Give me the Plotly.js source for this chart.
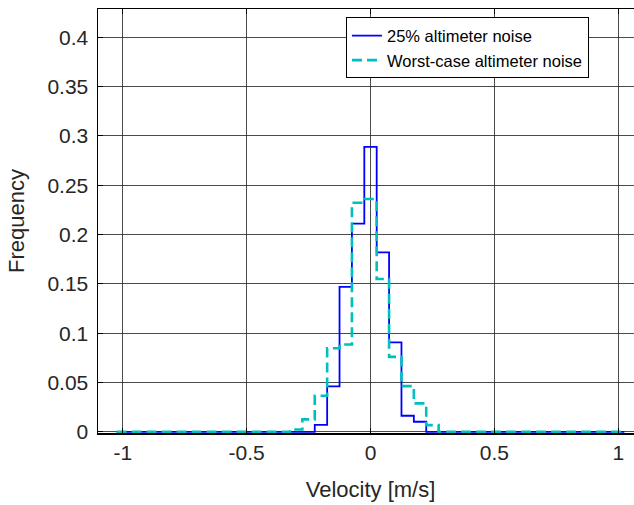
<!DOCTYPE html>
<html>
<head>
<meta charset="utf-8">
<script src="https://cdn.plot.ly/plotly-3.0.1.min.js"></script>
<style>
html,body{margin:0;padding:0;overflow:hidden;background:#fff;}
#chart{width:643px;height:505px;}
</style>
</head>
<body>
<div id="chart"></div>
<script>
// Bin edges (left edges of each step, last value = final right edge)
const blueEdges = [-1.025, -0.225, -0.175, -0.125, -0.075, -0.025, 0.025, 0.075, 0.125, 0.175, 0.225, 1.025];
const blueFreq  = [0, 0.007, 0.046, 0.147, 0.211, 0.289, 0.182, 0.0906, 0.0163, 0.0102, 0, 0];

const cyanEdges = [-1.025, -0.325, -0.275, -0.225, -0.175, -0.125, -0.075, -0.025, 0.025, 0.075, 0.125, 0.175, 0.225, 0.275, 1.025];
const cyanFreq  = [0, 0.0024, 0.0126, 0.0365, 0.0848, 0.0886, 0.2323, 0.236, 0.1549, 0.076, 0.0463, 0.0288, 0.0068, 0, 0];

const seriesNames = ['25% altimeter noise', 'Worst-case altimeter noise'];
const xTicks = [-1, -0.5, 0, 0.5, 1];
const xTickLabels = ['-1', '-0.5', '0', '0.5', '1'];
const yTicks = [0, 0.05, 0.1, 0.15, 0.2, 0.25, 0.3, 0.35, 0.4];
const yTickLabels = ['0', '0.05', '0.1', '0.15', '0.2', '0.25', '0.3', '0.35', '0.4'];

const FONT = 'Liberation Sans, Arial, Helvetica, sans-serif';
const TXT = '#262626';

const traces = [
  {
    x: blueEdges, y: blueFreq, type: 'scatter', mode: 'lines',
    line: {shape: 'hv', color: '#0000FF', width: 1.8},
    name: seriesNames[0]
  },
  {
    x: cyanEdges, y: cyanFreq, type: 'scatter', mode: 'lines',
    line: {shape: 'hv', color: '#00BFBF', width: 2.6, dash: '10px,5px'},
    name: seriesNames[1]
  }
];

const gridColor = 'rgba(30,30,30,0.8)';
const layout = {
  width: 643, height: 505,
  margin: {l: 98, r: 0, t: 9, b: 72},
  paper_bgcolor: '#fff', plot_bgcolor: '#fff',
  font: {family: FONT, size: 21, color: TXT},
  showlegend: true,
  legend: {
    x: 0.455, xanchor: 'left', y: 0.98, yanchor: 'top',
    bgcolor: '#fff', bordercolor: '#000', borderwidth: 1,
    font: {family: FONT, size: 16.5, color: '#000'},
    tracegroupgap: 0, itemwidth: 30
  },
  xaxis: {
    range: [-1.1, 1.1],
    tickvals: xTicks, ticktext: xTickLabels,
    showgrid: true, gridcolor: gridColor, gridwidth: 1,
    zeroline: false,
    showline: true, linecolor: '#000', linewidth: 1.5, mirror: 'ticks',
    ticks: 'inside', ticklen: 5, tickcolor: '#000',
    title: {text: 'Velocity [m/s]', font: {family: FONT, size: 22, color: TXT}, standoff: 19},
    tickfont: {family: FONT, size: 21, color: TXT}
  },
  yaxis: {
    range: [-0.0012, 0.4287],
    tickvals: yTicks, ticktext: yTickLabels,
    showgrid: true, gridcolor: gridColor, gridwidth: 1,
    zeroline: false,
    showline: true, linecolor: '#000', linewidth: 1.5, mirror: 'ticks',
    ticks: 'inside', ticklen: 5, tickcolor: '#000',
    ticklabelstandoff: 4,
    title: {text: 'Frequency', font: {family: FONT, size: 22, color: TXT}, standoff: 16},
    tickfont: {family: FONT, size: 21, color: TXT}
  }
};

Plotly.newPlot('chart', traces, layout, {displayModeBar: false, staticPlot: true});
</script>
</body>
</html>
